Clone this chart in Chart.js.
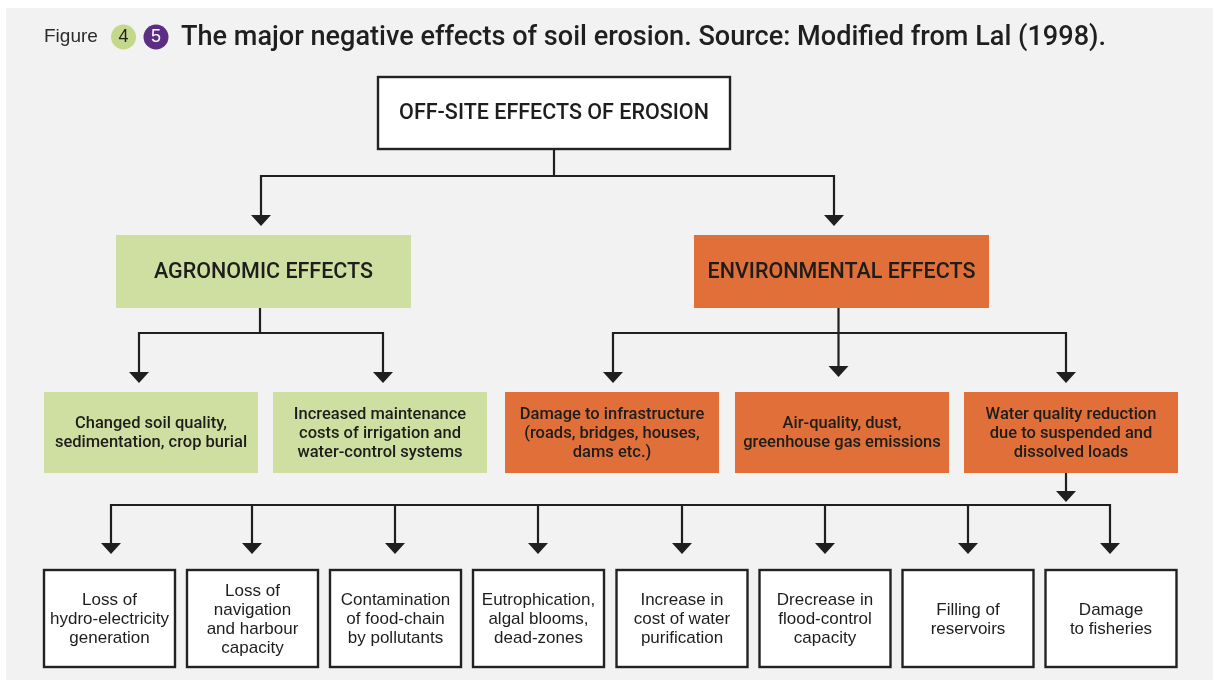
<!DOCTYPE html>
<html><head><meta charset="utf-8">
<script src="https://cdn.jsdelivr.net/npm/chart.js@4.4.1/dist/chart.umd.min.js"></script>
<style>
html,body{margin:0;padding:0;background:#fff;overflow:hidden}
#wrap{width:1213px;height:680px;position:relative}
canvas{display:block}
</style></head>
<body><div id="wrap"><canvas id="c" width="1213" height="680"></canvas></div>
<script>
// ---------- content (data) ----------
const figureLabel = 'Figure';
const figureNumbers = ['4', '5'];
const titleText = 'The major negative effects of soil erosion. Source: Modified from Lal (1998).';

const rootLabels = ['OFF-SITE EFFECTS OF EROSION'];
const effectLabels = ['AGRONOMIC EFFECTS', 'ENVIRONMENTAL EFFECTS'];
const effectParents = [0, 0];
const impactLabels = [
  'Changed soil quality,\nsedimentation, crop burial',
  'Increased maintenance\ncosts of irrigation and\nwater-control systems',
  'Damage to infrastructure\n(roads, bridges, houses,\ndams etc.)',
  'Air-quality, dust,\ngreenhouse gas emissions',
  'Water quality reduction\ndue to suspended and\ndissolved loads'
];
const impactParents = [0, 0, 1, 1, 1];
const waterLabels = [
  'Loss of\nhydro-electricity\ngeneration',
  'Loss of\nnavigation\nand harbour\ncapacity',
  'Contamination\nof food-chain\nby pollutants',
  'Eutrophication,\nalgal blooms,\ndead-zones',
  'Increase in\ncost of water\npurification',
  'Drecrease in\nflood-control\ncapacity',
  'Filling of\nreservoirs',
  'Damage\nto fisheries'
];
const waterParents = [4, 4, 4, 4, 4, 4, 4, 4];

// ---------- layout / style (not data) ----------
const FONT = "'Liberation Sans', Arial, Helvetica, sans-serif";
const MED = "Roboto, 'Liberation Sans', Arial, sans-serif";
const levelLayout = [
  { centers: [554], width: 354, top: 76, bottom: 150, font: '500 21.5px ' + MED, lineH: 19, fill: '#ffffff', border: true },
  { centers: [263.5, 841.5], width: 295, top: 235, bottom: 308, font: '500 21.5px ' + MED, lineH: 19, fills: ['#cfdfa1', '#e06f39'] },
  { centers: [151, 380, 612, 842, 1071], width: 214, top: 392, bottom: 473, font: '500 16.5px ' + MED, lineH: 19, inherit: true },
  { centers: [109.5, 252.5, 395.5, 538.5, 682, 825, 968, 1111], width: 133, top: 569, bottom: 668, font: '17px ' + FONT, lineH: 19, fill: '#ffffff', border: true }
];
// connector groups: from x, start y, bus y, drops (x, arrow tip y)
const connectorLayout = [
  { from: 554, startY: 150, busY: 176, drops: [[261, 226], [834, 226]] },
  { from: 260, startY: 308, busY: 333, drops: [[139, 383], [383, 383]] },
  { from: 838.5, startY: 308, busY: 333, drops: [[613, 383], [838.5, 377], [1066, 383]] },
  { from: 1066, startY: 473, arrowTip: 502, busY: 505,
    drops: [[111, 554], [252, 554], [395, 554], [538, 554], [682, 554], [825, 554], [968, 554], [1110, 554]] }
];

const levels = [rootLabels, effectLabels, impactLabels, waterLabels];
const parents = [null, effectParents, impactParents, waterParents];

// scatter data: node centres (one dataset per level), mapped through chart scales
const datasets = levels.map((labels, li) => ({
  label: 'level ' + li,
  data: labels.map((t, i) => ({ x: levelLayout[li].centers[i], y: (levelLayout[li].top + levelLayout[li].bottom) / 2, text: t })),
  pointRadius: 0, pointHoverRadius: 0
}));

const LINE = '#1f1f1f';

function arrowHead(ctx, x, tip) {
  ctx.beginPath();
  ctx.moveTo(x - 10, tip - 11);
  ctx.lineTo(x + 10, tip - 11);
  ctx.lineTo(x, tip);
  ctx.closePath();
  ctx.fill();
}

const flowPlugin = {
  id: 'flow',
  beforeDraw(chart) {
    const ctx = chart.ctx;
    ctx.save();
    ctx.fillStyle = '#ffffff';
    ctx.fillRect(0, 0, chart.width, chart.height);
    ctx.fillStyle = '#f2f2f2';
    ctx.fillRect(6, 8, chart.width - 6, chart.height - 8);
    ctx.restore();
  },
  afterDatasetsDraw(chart) {
    const ctx = chart.ctx;
    const xs = chart.scales.x, ys = chart.scales.y;
    const X = v => xs.getPixelForValue(v), Y = v => ys.getPixelForValue(v);
    ctx.save();

    // title
    ctx.textBaseline = 'middle';
    ctx.textAlign = 'left';
    ctx.fillStyle = '#2b2b2b';
    ctx.font = '19px ' + FONT;
    ctx.fillText(figureLabel, 44, 37);
    const circ = [['#c4d88b', '#1f1f1f', 123.5], ['#5b2d83', '#ffffff', 156]];
    figureNumbers.forEach((n, i) => {
      ctx.beginPath();
      ctx.arc(circ[i][2], 37, 12.5, 0, Math.PI * 2);
      ctx.fillStyle = circ[i][0];
      ctx.fill();
      ctx.fillStyle = circ[i][1];
      ctx.font = '18px ' + FONT;
      ctx.textAlign = 'center';
      ctx.fillText(n, circ[i][2], 37.5);
    });
    ctx.textAlign = 'left';
    ctx.textBaseline = 'alphabetic';
    ctx.fillStyle = '#1f1f1f';
    ctx.font = '500 27.1px ' + MED;
    ctx.fillText(titleText, 181, 45);

    // connectors
    ctx.strokeStyle = LINE;
    ctx.fillStyle = LINE;
    ctx.lineWidth = 2.2;
    ctx.lineCap = 'butt';
    connectorLayout.forEach(c => {
      ctx.beginPath();
      if (c.arrowTip) {
        ctx.moveTo(X(c.from), Y(c.startY));
        ctx.lineTo(X(c.from), Y(c.arrowTip - 10));
        ctx.stroke();
        arrowHead(ctx, X(c.from), Y(c.arrowTip));
        ctx.beginPath();
      } else {
        ctx.moveTo(X(c.from), Y(c.startY));
        ctx.lineTo(X(c.from), Y(c.busY));
      }
      const xsDrops = c.drops.map(d => d[0]);
      ctx.moveTo(X(Math.min(...xsDrops)) - 1, Y(c.busY));
      ctx.lineTo(X(Math.max(...xsDrops)) + 1, Y(c.busY));
      c.drops.forEach(d => {
        ctx.moveTo(X(d[0]), Y(c.busY) - 1);
        ctx.lineTo(X(d[0]), Y(d[1] - 10));
      });
      ctx.stroke();
      c.drops.forEach(d => arrowHead(ctx, X(d[0]), Y(d[1])));
    });

    // boxes
    const nodeFill = [];
    chart.data.datasets.forEach((ds, li) => {
      const L = levelLayout[li];
      nodeFill[li] = [];
      ds.data.forEach((p, i) => {
        let fill = L.fill;
        if (L.fills) fill = L.fills[i];
        if (L.inherit) fill = nodeFill[li - 1][parents[li][i]];
        nodeFill[li][i] = fill;
        const x0 = X(p.x - L.width / 2), x1 = X(p.x + L.width / 2);
        const y0 = Y(L.top), y1 = Y(L.bottom);
        ctx.fillStyle = fill;
        ctx.fillRect(x0, y0, x1 - x0, y1 - y0);
        if (L.border) {
          ctx.strokeStyle = '#222222';
          ctx.lineWidth = 2.4;
          ctx.strokeRect(x0 + 1, y0 + 1, x1 - x0 - 2, y1 - y0 - 2);
        }
        const lines = p.text.split('\n');
        ctx.fillStyle = '#1d1d1b';
        ctx.font = L.font;
        ctx.textAlign = 'center';
        ctx.textBaseline = 'middle';
        const cy = Y(p.y);
        lines.forEach((t, k) => {
          ctx.fillText(t, X(p.x), cy + (k - (lines.length - 1) / 2) * L.lineH + 1);
        });
      });
    });
    ctx.restore();
  }
};

new Chart(document.getElementById('c'), {
  type: 'scatter',
  data: { datasets },
  options: {
    responsive: false,
    devicePixelRatio: 1,
    animation: false,
    layout: { padding: 0 },
    plugins: { legend: { display: false }, tooltip: { enabled: false } },
    events: [],
    scales: {
      x: { type: 'linear', min: 0, max: 1213, display: false },
      y: { type: 'linear', min: 0, max: 680, reverse: true, display: false }
    }
  },
  plugins: [flowPlugin]
});
</script>
</body></html>
